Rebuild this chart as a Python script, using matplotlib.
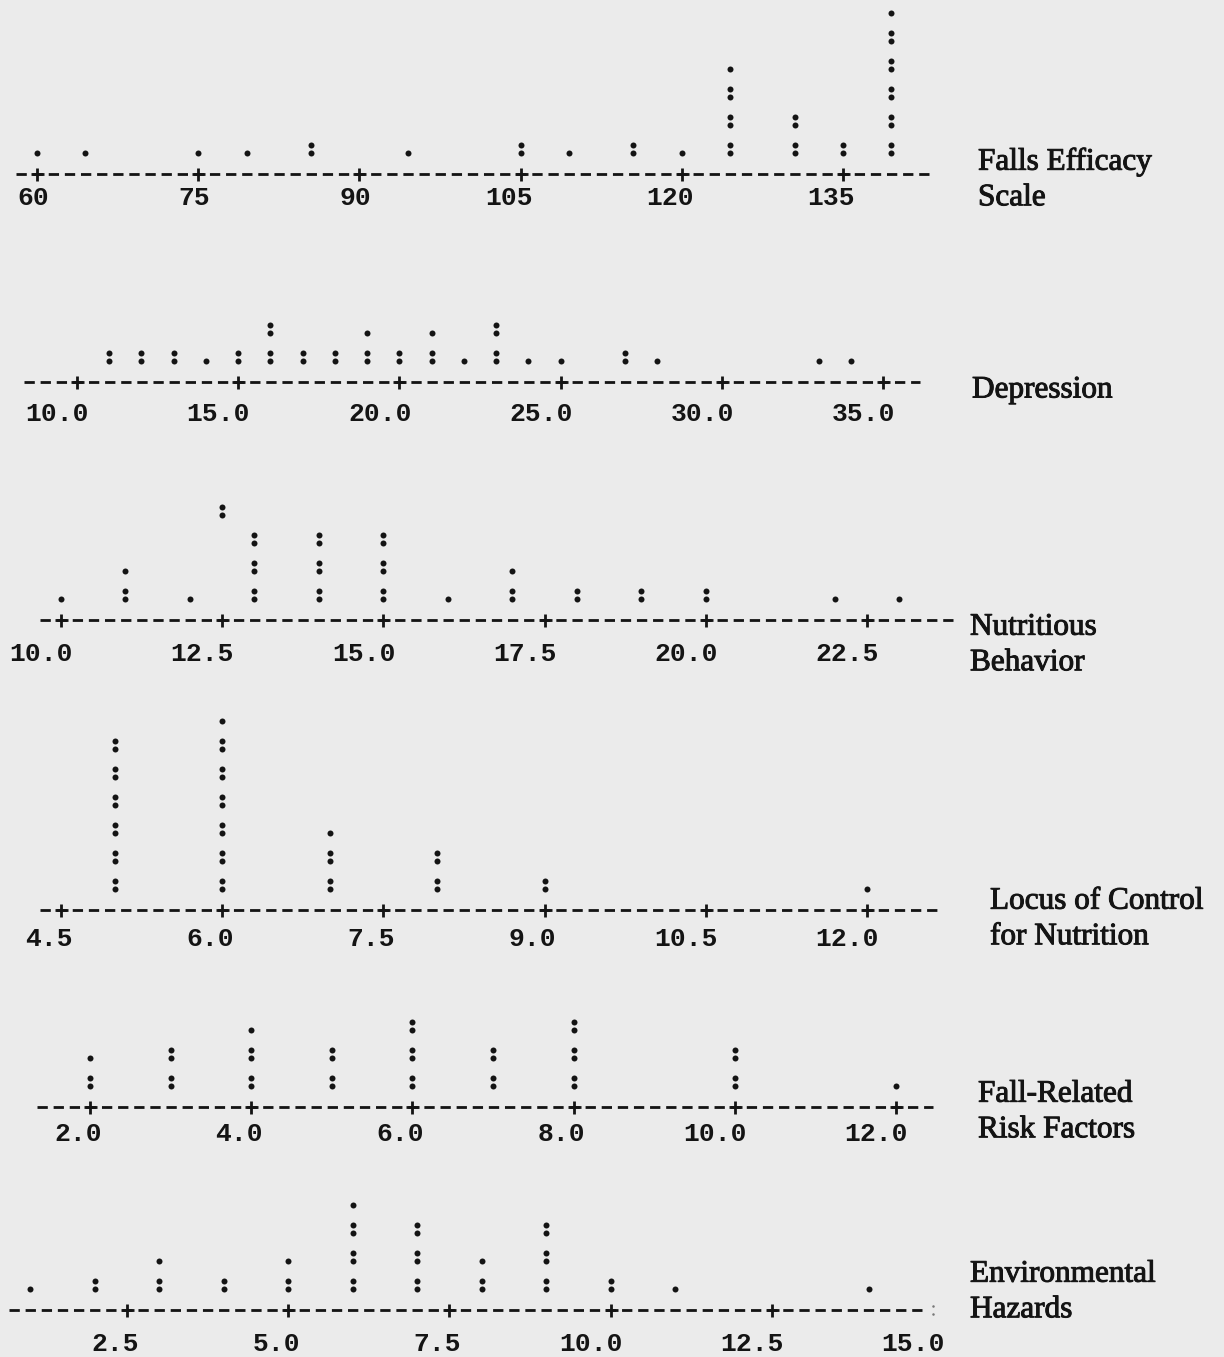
import matplotlib
matplotlib.use("Agg")
import matplotlib.pyplot as plt
import matplotlib.patheffects as pe

# ---------------- data ----------------
falls_values = [60, 64.5, 75, 79.5, 85.5, 94.5, 105, 109.5, 115.5, 120, 124.5, 130.5, 135, 139.5]
falls_counts = [1, 1, 1, 1, 2, 1, 2, 1, 2, 1, 7, 4, 2, 11]
falls_ticks = [60, 75, 90, 105, 120, 135]
falls_tick_labels = ["60", "75", "90", "105", "120", "135"]

dep_values = [11, 12, 13, 14, 15, 16, 17, 18, 19, 20, 21, 22, 23, 24, 25, 27, 28, 33, 34]
dep_counts = [2, 2, 2, 1, 2, 4, 2, 2, 3, 2, 3, 1, 4, 1, 1, 2, 1, 1, 1]
dep_ticks = [10, 15, 20, 25, 30, 35]
dep_tick_labels = ["10.0", "15.0", "20.0", "25.0", "30.0", "35.0"]

nut_values = [10, 11, 12, 13, 14, 15, 16, 17, 18, 19, 20, 22, 23]
nut_counts = [1, 3, 1, 6, 6, 6, 1, 3, 2, 2, 2, 1, 1]
nut_stray_values = [12.5]     # a ':' printed detached, high in the column
nut_stray_rows = [3]
nut_ticks = [10, 12.5, 15, 17.5, 20, 22.5]
nut_tick_labels = ["10.0", "12.5", "15.0", "17.5", "20.0", "22.5"]

loc_values = [5, 6, 7, 8, 9, 12]
loc_counts = [12, 13, 5, 4, 2, 1]
loc_ticks = [4.5, 6, 7.5, 9, 10.5, 12]
loc_tick_labels = ["4.5", "6.0", "7.5", "9.0", "10.5", "12.0"]

risk_values = [2, 3, 4, 5, 6, 7, 8, 10, 12]
risk_counts = [3, 4, 5, 4, 6, 4, 6, 4, 1]
risk_ticks = [2, 4, 6, 8, 10, 12]
risk_tick_labels = ["2.0", "4.0", "6.0", "8.0", "10.0", "12.0"]

env_values = [1, 2, 3, 4, 5, 6, 7, 8, 9, 10, 11, 14]
env_counts = [1, 2, 3, 2, 3, 7, 6, 3, 6, 2, 1, 1]
env_ticks = [2.5, 5, 7.5, 10, 12.5, 15]
env_tick_labels = ["2.5", "5.0", "7.5", "10.0", "12.5", "15.0"]

panel_titles = ["Falls Efficacy\nScale", "Depression", "Nutritious\nBehavior",
                "Locus of Control\nfor Nutrition", "Fall-Related\nRisk Factors",
                "Environmental\nHazards"]

# ---------------- layout (pixels) ----------------
W, H, DPI = 1224, 1357, 100
CW = 16.12            # width of one character cell
PITCH = 28            # height of one character row
PT = 72.0 / DPI       # points per pixel
INK = "#141414"
BG = "#ebebeb"

panels = [
    # values, counts, ticks, labels, axis_y, x_first_tick, units/char, col_start, col_end, label_dy, title_xy, last_tick_plus
    (falls_values, falls_counts, falls_ticks, falls_tick_labels, 174, 37, 1.5, -1, 55, 24, (978, 180), True),
    (dep_values, dep_counts, dep_ticks, dep_tick_labels, 382, 77, 0.5, -3, 52, 32, (972, 390), True),
    (nut_values, nut_counts, nut_ticks, nut_tick_labels, 620, 61, 0.25, -1, 55, 34, (970, 645), True),
    (loc_values, loc_counts, loc_ticks, loc_tick_labels, 910, 61, 0.15, -1, 54, 29, (990, 919), True),
    (risk_values, risk_counts, risk_ticks, risk_tick_labels, 1107, 90, 0.2, -3, 52, 27, (978, 1112), True),
    (env_values, env_counts, env_ticks, env_tick_labels, 1310, 127, 0.25, -7, 49, 34, (970, 1292), False),
]

plt.rcParams["lines.scale_dashes"] = False
fig = plt.figure(figsize=(W / DPI, H / DPI), dpi=DPI, facecolor=BG)

dot_ms = 6.0 * PT
title_fx = [pe.withStroke(linewidth=0.7, foreground=INK)]
for i, (vals, cnts, ticks, tlabels, ay, x0, u, c0, c1, ldy, (tx, ty), last_plus) in enumerate(panels):
    ax = fig.add_axes([0, 0, 1, 1])
    ax.set_axis_off()
    ax.patch.set_alpha(0)
    t0 = ticks[0]
    ax.set_xlim(t0 - x0 / CW * u, t0 + (W - x0) / CW * u)
    ax.set_ylim(H, 0)
    px = lambda p: p / CW * u   # pixels -> data units

    # dot stacks: ':' = two observations, '.' = one
    xs, ys = [], []
    base = ay - 25
    for v, n in zip(vals, cnts):
        for r in range(n // 2):
            yc = base - PITCH * r
            xs += [v, v]
            ys += [yc - 3.9, yc + 3.9]
        if n % 2:
            xs.append(v)
            ys.append(base - PITCH * (n // 2) + 3.9)
    if i == 2:
        for v, r in zip(nut_stray_values, nut_stray_rows):
            yc = base - PITCH * r
            xs += [v, v]
            ys += [yc - 3.9, yc + 3.9]
    ax.plot(xs, ys, "o", ms=dot_ms, color=INK, mew=0)

    # dashed axis line made of '-' cells
    xs0 = t0 + (c0 - 0.5) * u + px(3)
    xs1 = t0 + (c1 + 0.5) * u - px(3)
    ax.plot([xs0, xs1], [ay, ay], color=INK, lw=2.8 * PT,
            dashes=(10.3 * PT, 5.82 * PT), solid_capstyle="butt", dash_capstyle="butt")
    plus_ticks = ticks if last_plus else ticks[:-1]
    ax.plot(plus_ticks, [ay] * len(plus_ticks), "+", ms=13 * PT, mew=2.8 * PT, color=INK)
    if not last_plus:
        ax.plot([ticks[-1], ticks[-1]], [ay - 4, ay + 4], "o", ms=2.5 * PT,
                color="#777777", mew=0)

    for t, lab in zip(ticks, tlabels):
        ax.text(t + px(12), ay + ldy, lab, ha="right", va="center",
                family="Liberation Mono", weight="bold", fontsize=19.0, color=INK)

    fig.text(tx / W, 1 - ty / H, panel_titles[i], ha="left", va="center",
             family="Liberation Serif", fontsize=22.5, color=INK, linespacing=1.3,
             path_effects=title_fx)

fig.savefig("out.png", dpi=DPI, facecolor=BG)
